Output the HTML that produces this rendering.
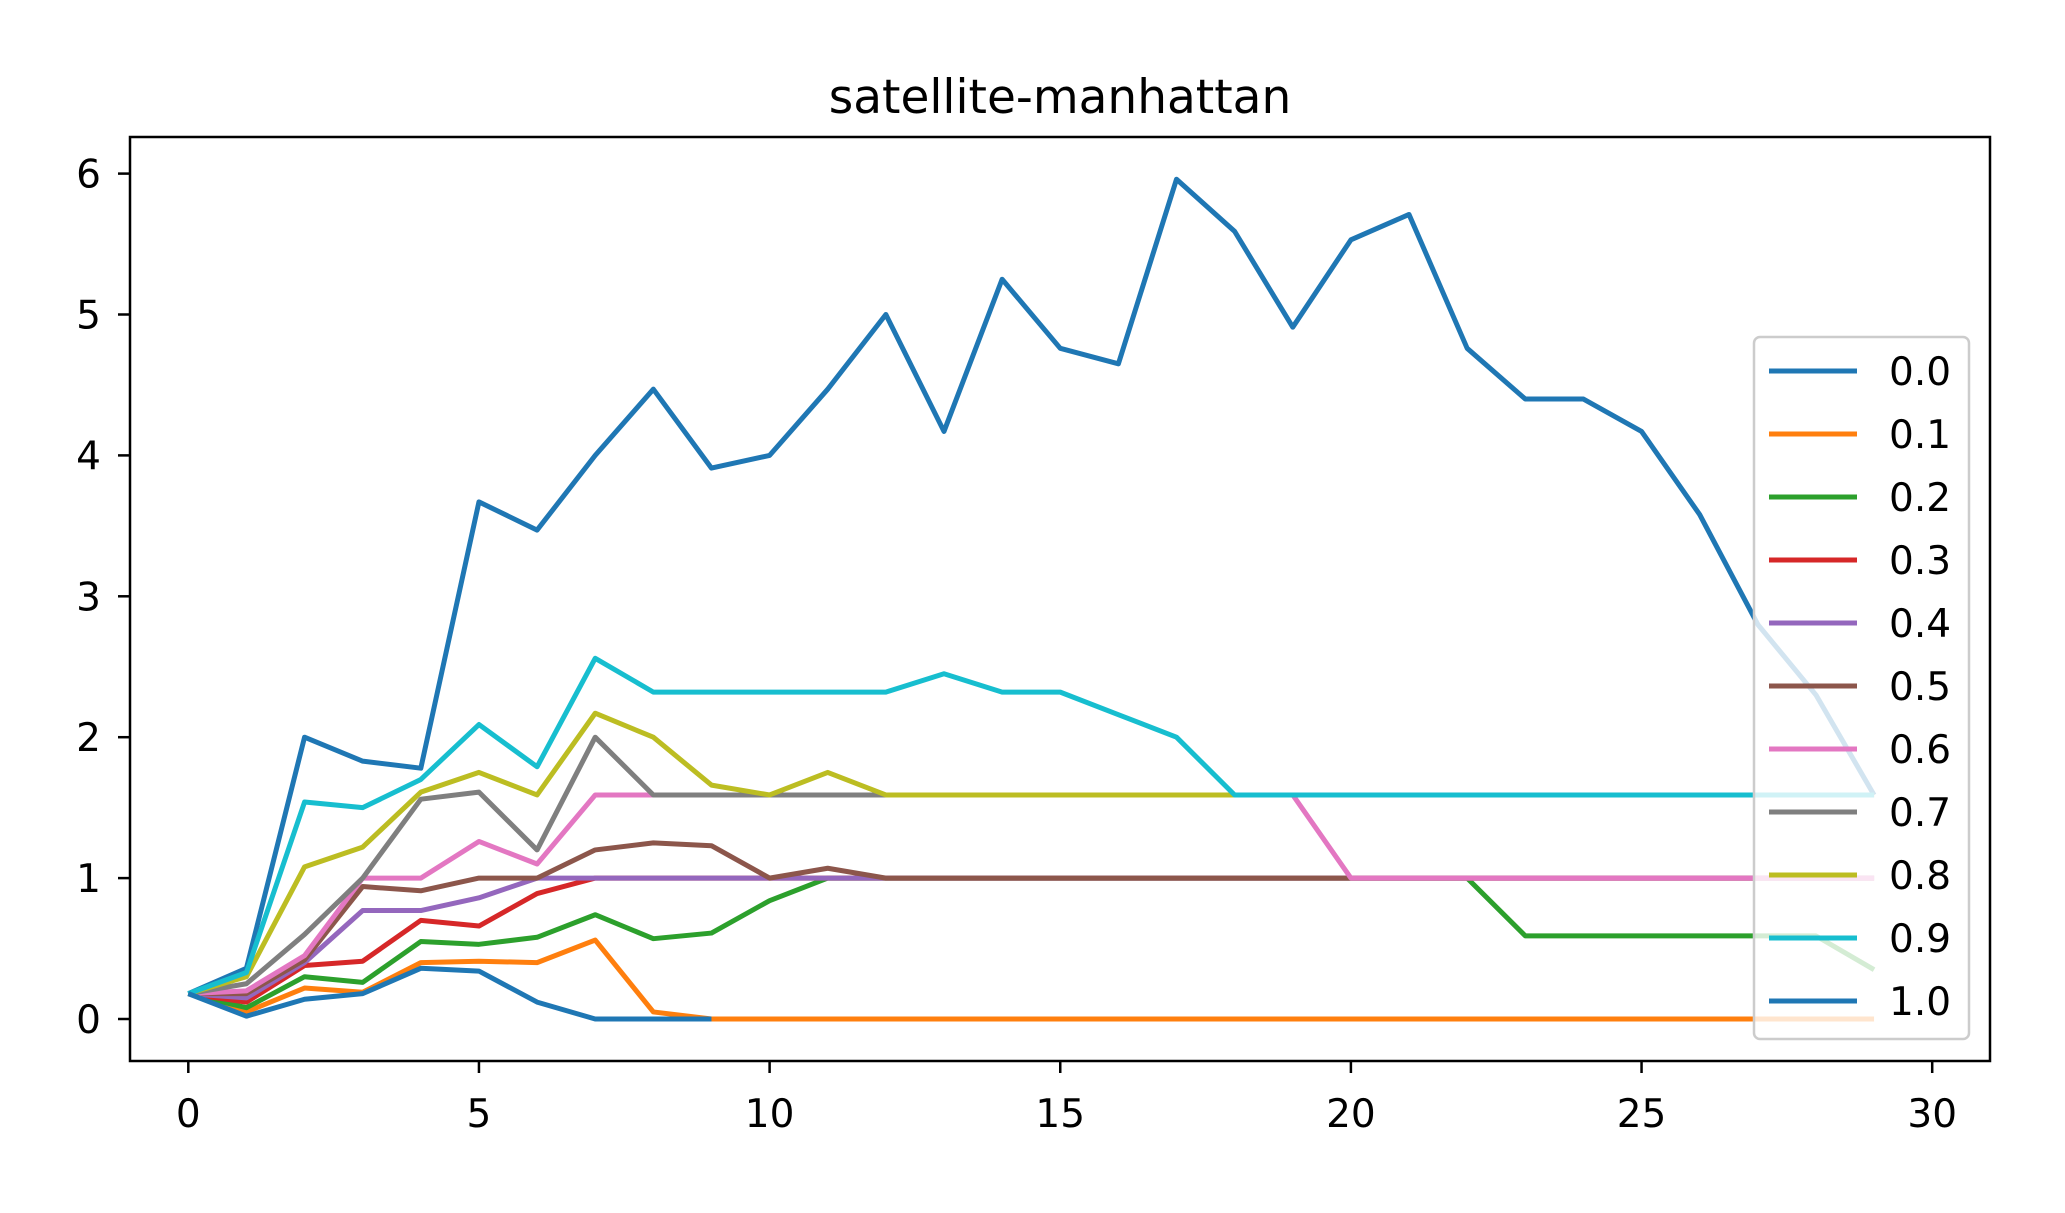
<!DOCTYPE html>
<html><head><meta charset="utf-8"><style>
body{margin:0;background:#fff}
svg text{font-family:"DejaVu Sans","Liberation Sans",sans-serif;fill:#000}
</style></head><body>
<svg id="chart" width="2065" height="1208" viewBox="0 0 2065 1208" xmlns="http://www.w3.org/2000/svg">
<rect width="2065" height="1208" fill="#fff"/>
<text x="1060" y="113" font-size="47" text-anchor="middle">satellite-manhattan</text>
<g id="marks"></g>
<g id="axes"></g>
<g id="legend"></g>
</svg>
<script>
const seriesNames = ["0.0","0.1","0.2","0.3","0.4","0.5","0.6","0.7","0.8","0.9","1.0"];
const colors = ["#1f77b4","#ff7f0e","#2ca02c","#d62728","#9467bd","#8c564b","#e377c2","#7f7f7f","#bcbd22","#17becf","#1f77b4"];
const s00 = [0.18,0.36,2.0,1.83,1.78,3.67,3.47,4.0,4.47,3.91,4.0,4.47,5.0,4.17,5.25,4.76,4.65,5.96,5.59,4.91,5.53,5.71,4.76,4.4,4.4,4.17,3.58,2.8,2.3,1.59];
const s01 = [0.18,0.05,0.22,0.19,0.40,0.41,0.40,0.56,0.05,0,0,0,0,0,0,0,0,0,0,0,0,0,0,0,0,0,0,0,0,0];
const s02 = [0.18,0.08,0.30,0.26,0.55,0.53,0.58,0.74,0.57,0.61,0.84,1.0,1.0,1.0,1.0,1.0,1.0,1.0,1.0,1.0,1.0,1.0,1.0,0.59,0.59,0.59,0.59,0.59,0.59,0.35];
const s03 = [0.18,0.12,0.38,0.41,0.70,0.66,0.89,1.0,1.0,1.0,1.0,1.0,1.0,1.0,1.0,1.0,1.0,1.0,1.0,1.0,1.0,1.0,1.0,1.0,1.0,1.0,1.0,1.0,1.0,1.0];
const s04 = [0.18,0.15,0.40,0.77,0.77,0.86,1.0,1.0,1.0,1.0,1.0,1.0,1.0,1.0,1.0,1.0,1.0,1.0,1.0,1.0,1.0,1.0,1.0,1.0,1.0,1.0,1.0,1.0,1.0,1.0];
const s05 = [0.18,0.18,0.42,0.94,0.91,1.0,1.0,1.2,1.25,1.23,1.0,1.07,1.0,1.0,1.0,1.0,1.0,1.0,1.0,1.0,1.0,1.0,1.0,1.0,1.0,1.0,1.0,1.0,1.0,1.0];
const s06 = [0.18,0.2,0.45,1.0,1.0,1.26,1.1,1.59,1.59,1.59,1.59,1.59,1.59,1.59,1.59,1.59,1.59,1.59,1.59,1.59,1.0,1.0,1.0,1.0,1.0,1.0,1.0,1.0,1.0,1.0];
const s07 = [0.18,0.25,0.6,1.0,1.56,1.61,1.2,2.0,1.59,1.59,1.59,1.59,1.59,1.59,1.59,1.59,1.59,1.59,1.59,1.59,1.59,1.59,1.59,1.59,1.59,1.59,1.59,1.59,1.59,1.59];
const s08 = [0.18,0.3,1.08,1.22,1.61,1.75,1.59,2.17,2.0,1.66,1.59,1.75,1.59,1.59,1.59,1.59,1.59,1.59,1.59,1.59,1.59,1.59,1.59,1.59,1.59,1.59,1.59,1.59,1.59,1.59];
const s09 = [0.18,0.33,1.54,1.5,1.7,2.09,1.79,2.56,2.32,2.32,2.32,2.32,2.32,2.45,2.32,2.32,2.16,2.0,1.59,1.59,1.59,1.59,1.59,1.59,1.59,1.59,1.59,1.59,1.59,1.59];
const s10 = [0.18,0.02,0.14,0.18,0.36,0.34,0.12,0,0,0];
const xTicks = [0,5,10,15,20,25,30];
const yTicks = [0,1,2,3,4,5,6];

const series = [s00,s01,s02,s03,s04,s05,s06,s07,s08,s09,s10];
const NS="http://www.w3.org/2000/svg";
const L=130,R=1990,T=137,B=1061;
const xs = v => 188.3 + v*58.13;
const ys = v => 1019 - v*140.9;
function mk(tag, attrs, parent){const e=document.createElementNS(NS,tag);for(const k in attrs)e.setAttribute(k,attrs[k]);parent.appendChild(e);return e;}
const marks=document.getElementById('marks');
series.forEach((s,i)=>{
  const p=mk('polyline',{points:s.map((v,j)=>xs(j)+','+ys(v)).join(' '),fill:'none',stroke:colors[i],'stroke-width':5,'stroke-linejoin':'round'},marks);
  
  
});
const axes=document.getElementById('axes');
const fr=mk('rect',{x:L,y:T,width:R-L,height:B-T,fill:'none',stroke:'#000','stroke-width':2.5},axes);


xTicks.forEach(t=>{
  const ln=mk('line',{x1:xs(t),x2:xs(t),y1:B,y2:B+12,stroke:'#000','stroke-width':2.5},axes);
  
  
  const tx=mk('text',{x:xs(t),y:1127,'font-size':39,'text-anchor':'middle'},axes);
  tx.textContent=t;
  
  
});
yTicks.forEach(t=>{
  const ln=mk('line',{x1:L-12,x2:L,y1:ys(t),y2:ys(t),stroke:'#000','stroke-width':2.5},axes);
  
  
  const tx=mk('text',{x:L-29,y:ys(t)+14,'font-size':39,'text-anchor':'end'},axes);
  tx.textContent=t;
  
  
});
const lg=document.getElementById('legend');


mk('rect',{x:1754,y:337,width:215,height:702,rx:6,fill:'#fff','fill-opacity':0.8,stroke:'#ccc','stroke-width':2.5},lg);
seriesNames.forEach((n,i)=>{
  const y=371+i*63;
  const g=mk('g',{},lg);
  
  
  mk('line',{x1:1769,x2:1857,y1:y,y2:y,stroke:colors[i],'stroke-width':5},g);
  const tx=mk('text',{x:1889,y:y+14,'font-size':39},g);
  tx.textContent=n;
});
</script>
</body></html>
